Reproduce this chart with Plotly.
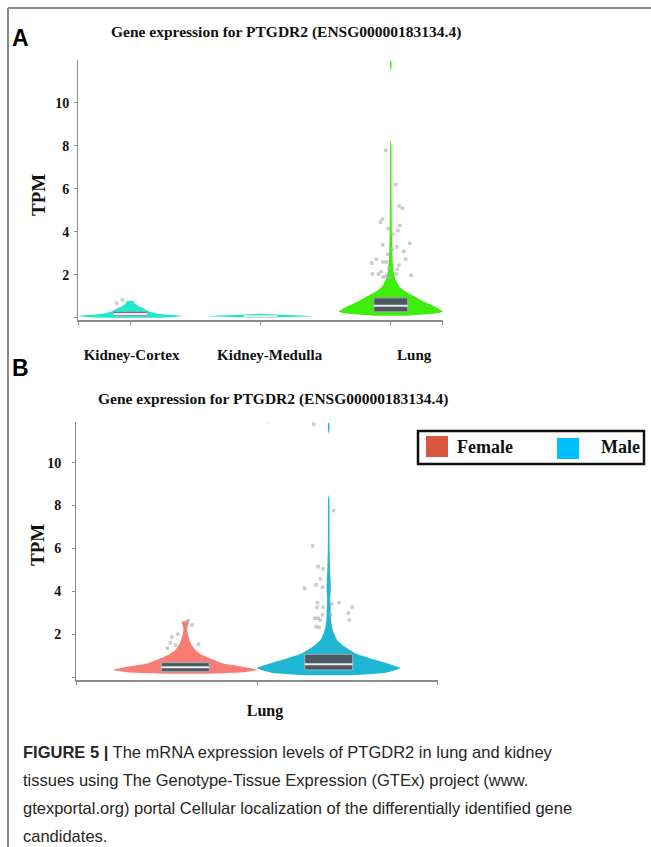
import plotly.graph_objects as go

# ---------------- Panel A data ----------------
tissues_a = ["Kidney-Cortex", "Kidney-Medulla", "Lung"]
violin_colors_a = ["#1EE8D0", "#1EE8D0", "#3CEE0A"]

# density profiles (TPM level, relative half-width)
cortex_tpm = [0.0, 0.05, 0.1, 0.15, 0.2, 0.28, 0.38, 0.5, 0.6, 0.7, 0.78, 0.8]
cortex_dens = [0.55, 0.9, 1.0, 0.7, 0.5, 0.38, 0.3, 0.2, 0.12, 0.08, 0.06, 0.0]
medulla_tpm = [0.03, 0.07, 0.11, 0.15, 0.19]
medulla_dens = [0.4, 1.0, 0.8, 0.35, 0.0]
lung_tpm = [0.1, 0.2, 0.3, 0.45, 0.6, 0.8, 1.0, 1.2, 1.45, 1.75, 2.1, 2.7,
            3.9, 5.5, 7.0, 8.1, 8.3, 11.5, 11.7, 11.9, 12.0]
lung_dens = [0.3, 0.85, 1.0, 0.9, 0.78, 0.6, 0.45, 0.3, 0.17, 0.1, 0.06, 0.035,
             0.022, 0.016, 0.013, 0.011, 0.0, 0.0, 0.015, 0.015, 0.0]

# box statistics (q1, median, q3)
box_q1_a = [0.10, 0.04, 0.28]
box_med_a = [0.18, 0.07, 0.56]
box_q3_a = [0.28, 0.09, 0.93]

# outlier points: TPM value and horizontal jitter (category units)
cortex_out_tpm = [0.68, 0.83]
cortex_out_dx = [-0.105, -0.06]
lung_out_tpm = [7.8, 6.2, 5.2, 5.1, 4.6, 4.45, 4.15, 4.3, 4.07, 3.9, 3.47, 3.4,
                3.3, 3.2, 3.1, 2.96, 2.73, 2.6, 2.6, 2.73, 2.45, 2.55, 2.3, 2.25,
                2.04, 2.04, 1.9, 1.94, 1.88, 2.04, 1.98, 2.14]
lung_out_dx = [-0.038, 0.038, 0.064, 0.09, -0.064, -0.079, -0.021, 0.069, 0.054,
               0.015, 0.146, -0.062, 0.046, 0.013, 0.1, -0.023, -0.11, -0.059,
               -0.033, 0.115, 0.064, -0.146, -0.013, 0.048, -0.095, -0.141,
               -0.059, -0.033, -0.008, 0.044, 0.156, -0.075]

# ---------------- Panel B data ----------------
sexes = ["Female", "Male"]
tissue_b = "Lung"
violin_colors_b = ["#F97C74", "#1FB6D3"]
legend_colors_b = ["#D9573F", "#00BFFF"]

female_tpm = [0.15, 0.22, 0.33, 0.45, 0.64, 0.8, 0.95, 1.1, 1.26, 1.57, 1.88,
              2.2, 2.35, 2.5, 2.58, 2.6]
female_dens = [0.3, 0.8, 1.0, 0.85, 0.52, 0.4, 0.29, 0.2, 0.14, 0.075, 0.045,
               0.025, 0.03, 0.045, 0.045, 0.0]
male_tpm = [0.08, 0.2, 0.42, 0.6, 0.8, 1.1, 1.42, 1.73, 2.04, 2.35, 2.82, 3.3,
            3.6, 4.2, 4.6, 5.15, 5.9, 6.7, 7.5, 8.3, 8.5, 11.35, 11.5, 11.8, 11.9]
male_dens = [0.3, 0.8, 1.0, 0.85, 0.65, 0.375, 0.22, 0.115, 0.072, 0.045, 0.03,
             0.026, 0.022, 0.03, 0.024, 0.018, 0.013, 0.011, 0.011, 0.009, 0.0,
             0.0, 0.01, 0.01, 0.0]

box_q1_b = [0.25, 0.33]
box_med_b = [0.45, 0.59]
box_q3_b = [0.67, 1.06]

female_out_tpm = [2.58, 2.63, 2.43, 2.0, 1.86, 1.6, 1.34, 1.5, 1.53]
female_out_dx = [0.006, 0.01, 0.023, -0.026, -0.047, -0.052, -0.063, -0.034, 0.046]
male_out_tpm = [7.76, 6.12, 5.15, 5.05, 4.58, 4.3, 4.14, 4.19, 3.47, 3.26, 3.47,
                3.41, 3.26, 3.26, 2.98, 2.74, 2.74, 2.66, 2.9, 2.9, 2.35, 2.32,
                2.66, 11.8, 11.95]
male_out_dx = [0.017, -0.056, -0.037, -0.019, -0.029, -0.044, -0.084, -0.022,
               -0.039, -0.041, 0.036, 0.011, -0.019, 0.082, 0.068, -0.037,
               -0.048, -0.029, 0.007, -0.022, -0.044, -0.034, 0.072, -0.052, -0.21]

y_ticks = [0, 2, 4, 6, 8, 10]

title_text = "Gene expression for PTGDR2 (ENSG00000183134.4)"
caption_lines = [
    "<b>FIGURE 5 |</b> The mRNA expression levels of PTGDR2 in lung and kidney",
    "tissues using The Genotype-Tissue Expression (GTEx) project (www.",
    "gtexportal.org) portal Cellular localization of the differentially identified gene",
    "candidates.",
]

# ---------------- layout / styles ----------------
W, H = 651, 847
SERIF = "Liberation Serif, Times New Roman, serif"
SANS = "Liberation Sans, Arial, sans-serif"
BOX_FILL = "#4B5A61"
BOX_LINE = "#A3ACB0"
MED_COLOR = "#E8ECEE"
PT_COLOR = "rgba(175,175,175,0.65)"
# where the category labels sit along the axis in the original (slightly off the ticks)
label_pos_a = [0.01, 1.07, 2.18]


def px(x):
    return x / W


def py(y):
    return 1 - y / H


fig = go.Figure()


def split_profile(tpm, dens):
    """Split a density profile into pieces where the density drops to zero inside."""
    pieces, cur_t, cur_d = [], [], []
    for t, d in zip(tpm, dens):
        cur_t.append(t)
        cur_d.append(d)
        if d == 0 and len(cur_t) > 1:
            pieces.append((cur_t, cur_d))
            cur_t, cur_d = [t], [d]
    if len(cur_t) > 1:
        pieces.append((cur_t, cur_d))
    return [p for p in pieces if any(v > 0 for v in p[1])]


def add_violin(pos, tpm, dens, half_w, color, xa, ya):
    for t, d in split_profile(tpm, dens):
        xs = [pos + half_w * v for v in d] + [pos - half_w * v for v in reversed(d)]
        ys = list(t) + list(reversed(t))
        fig.add_trace(go.Scatter(x=xs, y=ys, mode="lines", fill="toself",
                                 fillcolor=color,
                                 line=dict(width=0, color=color, shape="spline", smoothing=0.5),
                                 hoverinfo="skip", showlegend=False, xaxis=xa, yaxis=ya))


def add_box(pos, q1, med, q3, bw, xa, ya):
    x0, x1 = pos - bw / 2, pos + bw / 2
    fig.add_trace(go.Scatter(x=[x0, x1, x1, x0, x0], y=[q1, q1, q3, q3, q1],
                             mode="lines", fill="toself", fillcolor=BOX_FILL,
                             line=dict(color=BOX_LINE, width=1),
                             showlegend=False, hoverinfo="skip", xaxis=xa, yaxis=ya))
    fig.add_trace(go.Scatter(x=[x0, x1], y=[med, med],
                             mode="lines", line=dict(color=MED_COLOR, width=2),
                             showlegend=False, hoverinfo="skip", xaxis=xa, yaxis=ya))


def add_points(pos, tpm, dx, xa, ya):
    fig.add_trace(go.Scatter(x=[pos + d for d in dx], y=tpm, mode="markers",
                             marker=dict(size=3.5, color=PT_COLOR, symbol="square"),
                             showlegend=False, hoverinfo="skip", xaxis=xa, yaxis=ya))


# ---- Panel A ----
profiles_a = [(cortex_tpm, cortex_dens), (medulla_tpm, medulla_dens), (lung_tpm, lung_dens)]
for i, (t, d) in enumerate(profiles_a):
    add_violin(i, t, d, 0.4, violin_colors_a[i], "x", "y")
for i in range(3):
    add_box(i, box_q1_a[i], box_med_a[i], box_q3_a[i], 0.26, "x", "y")
add_points(0, cortex_out_tpm, cortex_out_dx, "x", "y")
add_points(2, lung_out_tpm, lung_out_dx, "x", "y")
# empty trace registering the label axis
fig.add_trace(go.Scatter(x=[], y=[], xaxis="x3", yaxis="y", showlegend=False, hoverinfo="skip"))

# ---- Panel B ----
pos_b = [-0.25, 0.25]
profiles_b = [(female_tpm, female_dens), (male_tpm, male_dens)]
for i, (t, d) in enumerate(profiles_b):
    add_violin(pos_b[i], t, d, 0.25, violin_colors_b[i], "x2", "y2")
for i in range(2):
    add_box(pos_b[i], box_q1_b[i], box_med_b[i], box_q3_b[i], 0.167, "x2", "y2")
add_points(pos_b[0], female_out_tpm, female_out_dx, "x2", "y2")
add_points(pos_b[1], male_out_tpm, male_out_dx, "x2", "y2")


def bold(v):
    return "<b>" + v + "</b>" if v else ""


y_ticktext = [""] + [bold(str(v)) for v in y_ticks[1:]]

axis_common = dict(showgrid=False, zeroline=False, showline=True,
                   linecolor="#8C8C8C", ticks="outside", ticklen=3, tickcolor="#8C8C8C",
                   tickfont=dict(family=SERIF, size=14, color="#111"))

xa_range = [-0.401, 2.401]
fig.update_layout(
    width=W, height=H, margin=dict(l=0, r=0, t=0, b=0),
    paper_bgcolor="white", plot_bgcolor="white",
    showlegend=False,
    xaxis=dict(axis_common, domain=[px(78), px(443)], range=xa_range,
               tickvals=[-0.4, 0, 1, 2, 2.4], ticktext=["", "", "", "", ""],
               linewidth=2, anchor="y"),
    xaxis3=dict(overlaying="x", anchor="y", range=xa_range, showgrid=False, zeroline=False,
                showline=False, ticks="", tickvals=label_pos_a,
                ticktext=[bold(t) for t in tissues_a], ticklabelstandoff=24,
                side="bottom", tickfont=dict(family=SERIF, size=15, color="#111")),
    yaxis=dict(axis_common, domain=[py(320), py(60)], range=[-0.1, 12],
               tickvals=y_ticks, ticktext=y_ticktext,
               linewidth=1, anchor="x", ticklabelstandoff=2),
    xaxis2=dict(axis_common, domain=[px(76), px(438)], range=[-0.631, 0.631],
                tickvals=[-0.63, 0, 0.63], ticktext=["", bold(tissue_b), ""],
                linewidth=2, anchor="y2", ticklabelstandoff=12, ticklabelshift=8,
                tickfont=dict(family=SERIF, size=16, color="#111")),
    yaxis2=dict(axis_common, domain=[py(680), py(422)], range=[-0.14, 11.9],
                tickvals=y_ticks, ticktext=y_ticktext,
                linewidth=1, anchor="x2", ticklabelstandoff=8),
)

ann = []
# panel letters
ann.append(dict(text="<b>A</b>", x=px(20), y=py(38), font=dict(family=SANS, size=23, color="#000")))
ann.append(dict(text="<b>B</b>", x=px(20), y=py(368), font=dict(family=SANS, size=23, color="#000")))
# titles
ann.append(dict(text=bold(title_text), x=px(286), y=py(32),
                font=dict(family=SERIF, size=15.5, color="#111")))
ann.append(dict(text=bold(title_text), x=px(273), y=py(399),
                font=dict(family=SERIF, size=15.5, color="#111")))
# y-axis titles
ann.append(dict(text="<b>TPM</b>", x=px(38), y=py(195), textangle=-90,
                font=dict(family=SERIF, size=19, color="#111")))
ann.append(dict(text="<b>TPM</b>", x=px(37), y=py(545), textangle=-90,
                font=dict(family=SERIF, size=19, color="#111")))
# legend texts
ann.append(dict(text=bold(sexes[0]), x=px(455), y=py(447), xanchor="left",
                font=dict(family=SERIF, size=18, color="#111")))
ann.append(dict(text=bold(sexes[1]), x=px(599), y=py(447), xanchor="left",
                font=dict(family=SERIF, size=18, color="#111")))
# caption
cap_y = [752, 780, 808, 836]
for line, yy in zip(caption_lines, cap_y):
    ann.append(dict(text=line, x=px(21), y=py(yy), xanchor="left",
                    font=dict(family=SANS, size=16.5, color="#262626")))

for a in ann:
    a.setdefault("xanchor", "center")
    a.update(xref="paper", yref="paper", yanchor="middle", showarrow=False)
fig.update_layout(annotations=ann)

shapes = [
    # figure frame (top and left)
    dict(type="line", x0=px(8), x1=1, y0=py(8), y1=py(8), line=dict(color="#8A8A8A", width=2)),
    dict(type="line", x0=px(8), x1=px(8), y0=py(8), y1=0, line=dict(color="#8A8A8A", width=2)),
    # legend frame and swatches
    dict(type="rect", x0=px(418), x1=px(644), y0=py(464), y1=py(431),
         line=dict(color="#111", width=2.5), fillcolor="white", layer="above"),
    dict(type="rect", x0=px(426), x1=px(448), y0=py(457), y1=py(436),
         line=dict(width=0), fillcolor=legend_colors_b[0]),
    dict(type="rect", x0=px(557), x1=px(579), y0=py(459), y1=py(438),
         line=dict(width=0), fillcolor=legend_colors_b[1]),
]
for s in shapes:
    s.update(xref="paper", yref="paper")
fig.update_layout(shapes=shapes)

fig.write_html("out.html")
